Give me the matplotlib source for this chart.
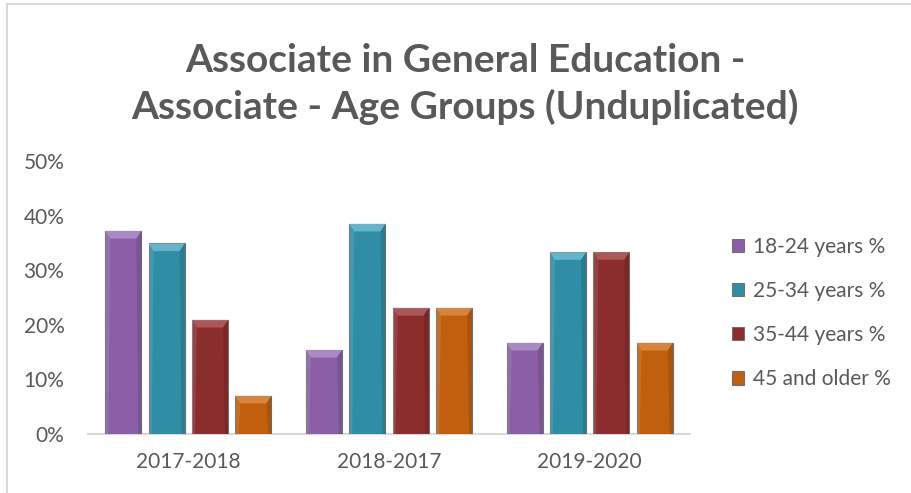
import numpy as np
import matplotlib.pyplot as plt
from matplotlib.patches import Polygon, Rectangle

plt.rcParams["font.family"] = ["Lato", "DejaVu Sans"]

# data
years = ["2017-2018", "2018-2017", "2019-2020"]
series = ["18-24 years %", "25-34 years %", "35-44 years %", "45 and older %"]
age_18_24 = [37.2, 15.4, 16.7]
age_25_34 = [34.9, 38.5, 33.3]
age_35_44 = [20.9, 23.1, 33.3]
age_45_up = [7.0, 23.1, 16.7]
yticks = [0, 10, 20, 30, 40, 50]

values = [age_18_24, age_25_34, age_35_44, age_45_up]
colors = ["#8a5fa8", "#2f8ea6", "#8c2d2d", "#c0600f"]
tops = ["#b99bd0", "#7cc7da", "#b86a6a", "#e3954f"]
text_col = "#595959"

fig = plt.figure(figsize=(9.11, 4.93), dpi=100)
ax = fig.add_axes([88 / 911, (493 - 434) / 493, 602 / 911, 273 / 493])

# chart border (left + top)
fig.add_artist(plt.Line2D([7 / 911, 7 / 911], [0, 1 - 4 / 493], color="#d9d9d9", lw=1.5))
fig.add_artist(plt.Line2D([7 / 911, 1], [1 - 4 / 493, 1 - 4 / 493], color="#d9d9d9", lw=1.5))

x = np.arange(len(years))
width = 0.18
step = 0.216
bevel_h = 1.4
for i, (vals, c, tc) in enumerate(zip(values, colors, tops)):
    pos = x + (i - 1.5) * step
    bars = ax.bar(pos, vals, width=width, color=c, edgecolor="#707070", linewidth=0.8,
                  label=series[i], zorder=3)
    for b in bars:
        x0, w, h = b.get_x(), b.get_width(), b.get_height()
        ins = w * 0.14
        # soft shadow
        ax.add_patch(Rectangle((x0 + w * 0.03, 0), w, h - 0.3, color="#cfcfcf",
                               alpha=0.5, zorder=2, lw=0))
        # top bevel
        ax.add_patch(Polygon([(x0, h), (x0 + w, h), (x0 + w - ins, h - bevel_h),
                              (x0 + ins, h - bevel_h)], closed=True,
                             facecolor=tc, edgecolor="none", alpha=0.7, zorder=4))
        # side shading
        ax.add_patch(Polygon([(x0 + w, h), (x0 + w, 0), (x0 + w - ins * 0.6, 0),
                              (x0 + w - ins, h - bevel_h)], closed=True,
                             facecolor="black", edgecolor="none", alpha=0.12, zorder=4))
        ax.add_patch(Polygon([(x0, h), (x0, 0), (x0 + ins * 0.6, 0),
                              (x0 + ins, h - bevel_h)], closed=True,
                             facecolor="white", edgecolor="none", alpha=0.1, zorder=4))

ax.set_xlim(-0.5, len(years) - 0.5)
ax.set_ylim(0, 50)
ax.set_yticks(yticks)
ax.set_yticklabels([f"{t}%" for t in yticks])
ax.set_xticks(x)
ax.set_xticklabels(years)
ax.tick_params(length=0, labelsize=15, colors=text_col)
ax.tick_params(axis="y", pad=17)
ax.tick_params(axis="x", pad=13)
for s in ["top", "right", "left"]:
    ax.spines[s].set_visible(False)
ax.spines["bottom"].set_color("#d9d9d9")
ax.spines["bottom"].set_linewidth(1.5)

fig.text(465 / 911, 1 - 84 / 493,
         "Associate in General Education -\nAssociate - Age Groups (Unduplicated)",
         ha="center", va="center", fontsize=28, fontweight="bold", color=text_col,
         linespacing=1.35)

leg = ax.legend(loc="center left", bbox_to_anchor=(713 / 911, 1 - 313 / 493),
                bbox_transform=fig.transFigure, frameon=False, fontsize=15,
                handlelength=0.6, handleheight=0.6, handletextpad=0.4,
                labelspacing=1.16, labelcolor=text_col)

fig.savefig("out.png", dpi=100)
